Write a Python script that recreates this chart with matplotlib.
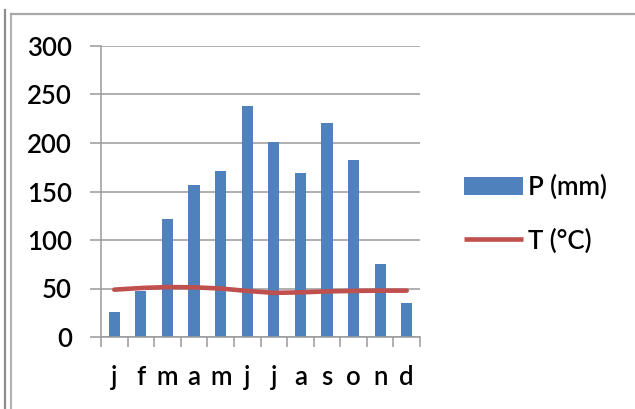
import numpy as np
import matplotlib.pyplot as plt
from matplotlib.lines import Line2D

plt.rcParams['font.family'] = ['Lato', 'DejaVu Sans']
plt.rcParams['font.weight'] = 'semibold'

months = ['j', 'f', 'm', 'a', 'm', 'j', 'j', 'a', 's', 'o', 'n', 'd']
precip = [26, 47, 122, 157, 171, 238, 201, 169, 221, 182, 75, 35]
temp = [48.8, 50.5, 51.5, 51.2, 50, 47.5, 45.5, 46, 47, 47.5, 47.8, 47.8]

W, H = 635, 409
fig = plt.figure(figsize=(W/100, H/100), dpi=100)
ax = fig.add_axes([101/W, 1 - 337/H, (420 - 101)/W, (337 - 46)/H])

grid_c = '#9a9a9a'
fs = 18.5
x = np.arange(len(months))
bars = ax.bar(x, precip, width=0.42, color='#4f81bd', zorder=2)
line, = ax.plot(x, temp, color='#c0504d', lw=3.3, solid_capstyle='round',
                solid_joinstyle='round', zorder=3)

ax.set_xlim(-0.5, 11.5)
ax.set_ylim(0, 300)
ax.set_yticks(range(0, 301, 50))
ax.yaxis.grid(True, color=grid_c, lw=1.1, zorder=0)
ax.set_axisbelow(True)

# category boundaries get the tick marks, labels sit centred
ax.set_xticks(np.arange(-0.5, 12, 1))
ax.set_xticklabels([])
ax.set_xticks(x, minor=True)
ax.set_xticklabels(months, minor=True, fontsize=fs)
ax.tick_params(axis='x', which='major', length=7, width=1.1, color=grid_c)
ax.tick_params(axis='x', which='minor', length=0, pad=20)
ax.tick_params(axis='y', length=8, width=1.1, color=grid_c, labelsize=fs, pad=13)

for s in ['top', 'right']:
    ax.spines[s].set_visible(False)
for s in ['left', 'bottom']:
    ax.spines[s].set_color(grid_c)
    ax.spines[s].set_linewidth(1.1)

leg_line = Line2D([], [], color='#c0504d', lw=3.3, solid_capstyle='butt')
fig.legend([bars, leg_line], ['P (mm)', 'T (°C)'], loc='center left',
           bbox_to_anchor=(441/W, 1 - 214/H), frameon=False,
           fontsize=fs, handlelength=2.3, handleheight=0.72, handletextpad=0.2,
           labelspacing=1.1)

# frame lines around the chart area
fig.add_artist(Line2D([5/W, 5/W], [0, 1 - 10/H], color='#8c8c8c', lw=1.6))
fig.add_artist(Line2D([10.5/W, 10.5/W], [0, 1 - 14/H], color='#b4b4b4', lw=1.6))
fig.add_artist(Line2D([10.5/W, 1], [1 - 14/H, 1 - 14/H], color='#a8a8a8', lw=1.6))

fig.savefig('out.png', dpi=100)
